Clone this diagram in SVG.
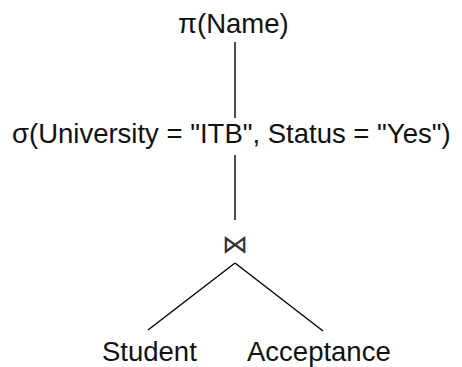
<svg xmlns="http://www.w3.org/2000/svg" width="462" height="367" viewBox="0 0 462 367">
<style>
.t{font-family:"Liberation Sans",Arial,sans-serif;font-size:27.5px;fill:#111}
.j{font-family:"DejaVu Sans",sans-serif;font-size:26px;fill:#333}
.e{stroke:#000;stroke-width:1.4;fill:none}
</style>
<rect width="462" height="367" fill="#fff"/>
<g id="connectors">
<line class="e" x1="235" y1="42" x2="235" y2="118"/>
<line class="e" x1="235" y1="155" x2="235" y2="220"/>
<line class="e" x1="235" y1="263" x2="148" y2="330"/>
<line class="e" x1="235" y1="263" x2="323" y2="331"/>
</g>
<g id="project"><text class="t" x="178" y="33">π(Name)</text></g>
<g id="select"><text class="t" x="12" y="143">σ(University = "ITB", Status = "Yes")</text></g>
<g id="join"><text class="j" x="235" y="253" text-anchor="middle">⋈</text></g>
<g id="student"><text class="t" x="102" y="361">Student</text></g>
<g id="acceptance"><text class="t" x="247" y="361">Acceptance</text></g>
</svg>
